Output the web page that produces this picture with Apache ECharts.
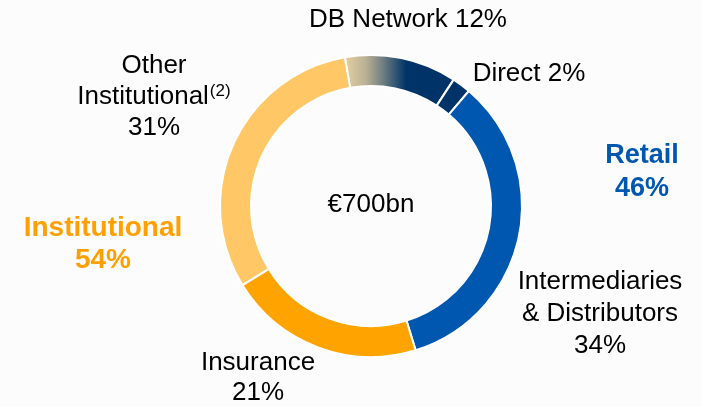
<!DOCTYPE html>
<html>
<head>
<meta charset="utf-8">
<script src="https://cdn.jsdelivr.net/npm/echarts@6/dist/echarts.min.js"></script>
<style>
  html, body { margin: 0; padding: 0; background: #fcfcfc; }
  #chart { width: 702px; height: 407px; }
</style>
</head>
<body>
<div id="chart"></div>
<script>
// segments, clockwise from the top
const segmentNames = ['DB Network', 'Direct', 'Intermediaries & Distributors', 'Insurance', 'Other Institutional']
const segmentShares = [12, 2, 34, 21, 31]
const groupNames = ['Retail', 'Institutional']
const groupShares = [46, 54]
const totalLabel = '€700bn'

const font = 'Liberation Sans, Arial, sans-serif'
const dbGradient = new echarts.graphic.LinearGradient(0, 0, 1, 0, [
  { offset: 0, color: '#e8d1a0' },
  { offset: 0.2, color: '#b9b096' },
  { offset: 0.36, color: '#6d7c80' },
  { offset: 0.56, color: '#003468' },
  { offset: 1, color: '#003468' }
])
const segmentColors = [dbGradient, '#003468', '#0057b0', '#ffa300', '#ffc766']

const myChart = echarts.init(document.getElementById('chart'))

function pct(i) {
  return segmentShares[i] + '%'
}

function label(x, y, text, extra) {
  return {
    type: 'text',
    x: x,
    y: y,
    silent: true,
    style: Object.assign({
      text: text,
      fontFamily: font,
      fontSize: 26,
      fill: '#000',
      align: 'center',
      verticalAlign: 'middle',
      lineHeight: 32
    }, extra || {})
  }
}

myChart.setOption({
  backgroundColor: '#fcfcfc',
  animation: false,
  series: [
    {
      type: 'pie',
      center: [371, 206],
      radius: [120, 151],
      startAngle: 100,
      clockwise: true,
      silent: true,
      label: { show: false },
      labelLine: { show: false },
      itemStyle: { borderColor: '#ffffff', borderWidth: 2 },
      data: segmentNames.map((n, i) => ({
        name: n,
        value: segmentShares[i],
        itemStyle: { color: segmentColors[i] }
      }))
    }
  ],
  graphic: [
    label(408, 20, segmentNames[0] + ' ' + pct(0)),
    label(529, 74, segmentNames[1] + ' ' + pct(1)),
    label(600, 314, 'Intermediaries\n& Distributors\n' + pct(2)),
    label(258, 378, segmentNames[3] + '\n' + pct(3), { lineHeight: 30 }),
    label(154, 97, '{n|Other}\n{n|Institutional}{s|(2)}\n{n|' + pct(4) + '}', {
      rich: {
        n: { fontFamily: font, fontSize: 26, lineHeight: 31, fill: '#000' },
        s: { fontFamily: font, fontSize: 17, lineHeight: 31, fill: '#000', padding: [0, 0, 12, 1] }
      }
    }),
    label(642, 172, groupNames[0] + '\n' + groupShares[0] + '%', {
      fontWeight: 'bold', fontSize: 27, lineHeight: 33, fill: '#0057b0'
    }),
    label(103, 244, groupNames[1] + '\n' + groupShares[1] + '%', {
      fontWeight: 'bold', fontSize: 28, lineHeight: 32, fill: '#ffa000'
    }),
    label(371, 205, totalLabel)
  ]
})

window.onresize = function() {
  myChart.resize()
}
</script>
</body>
</html>
